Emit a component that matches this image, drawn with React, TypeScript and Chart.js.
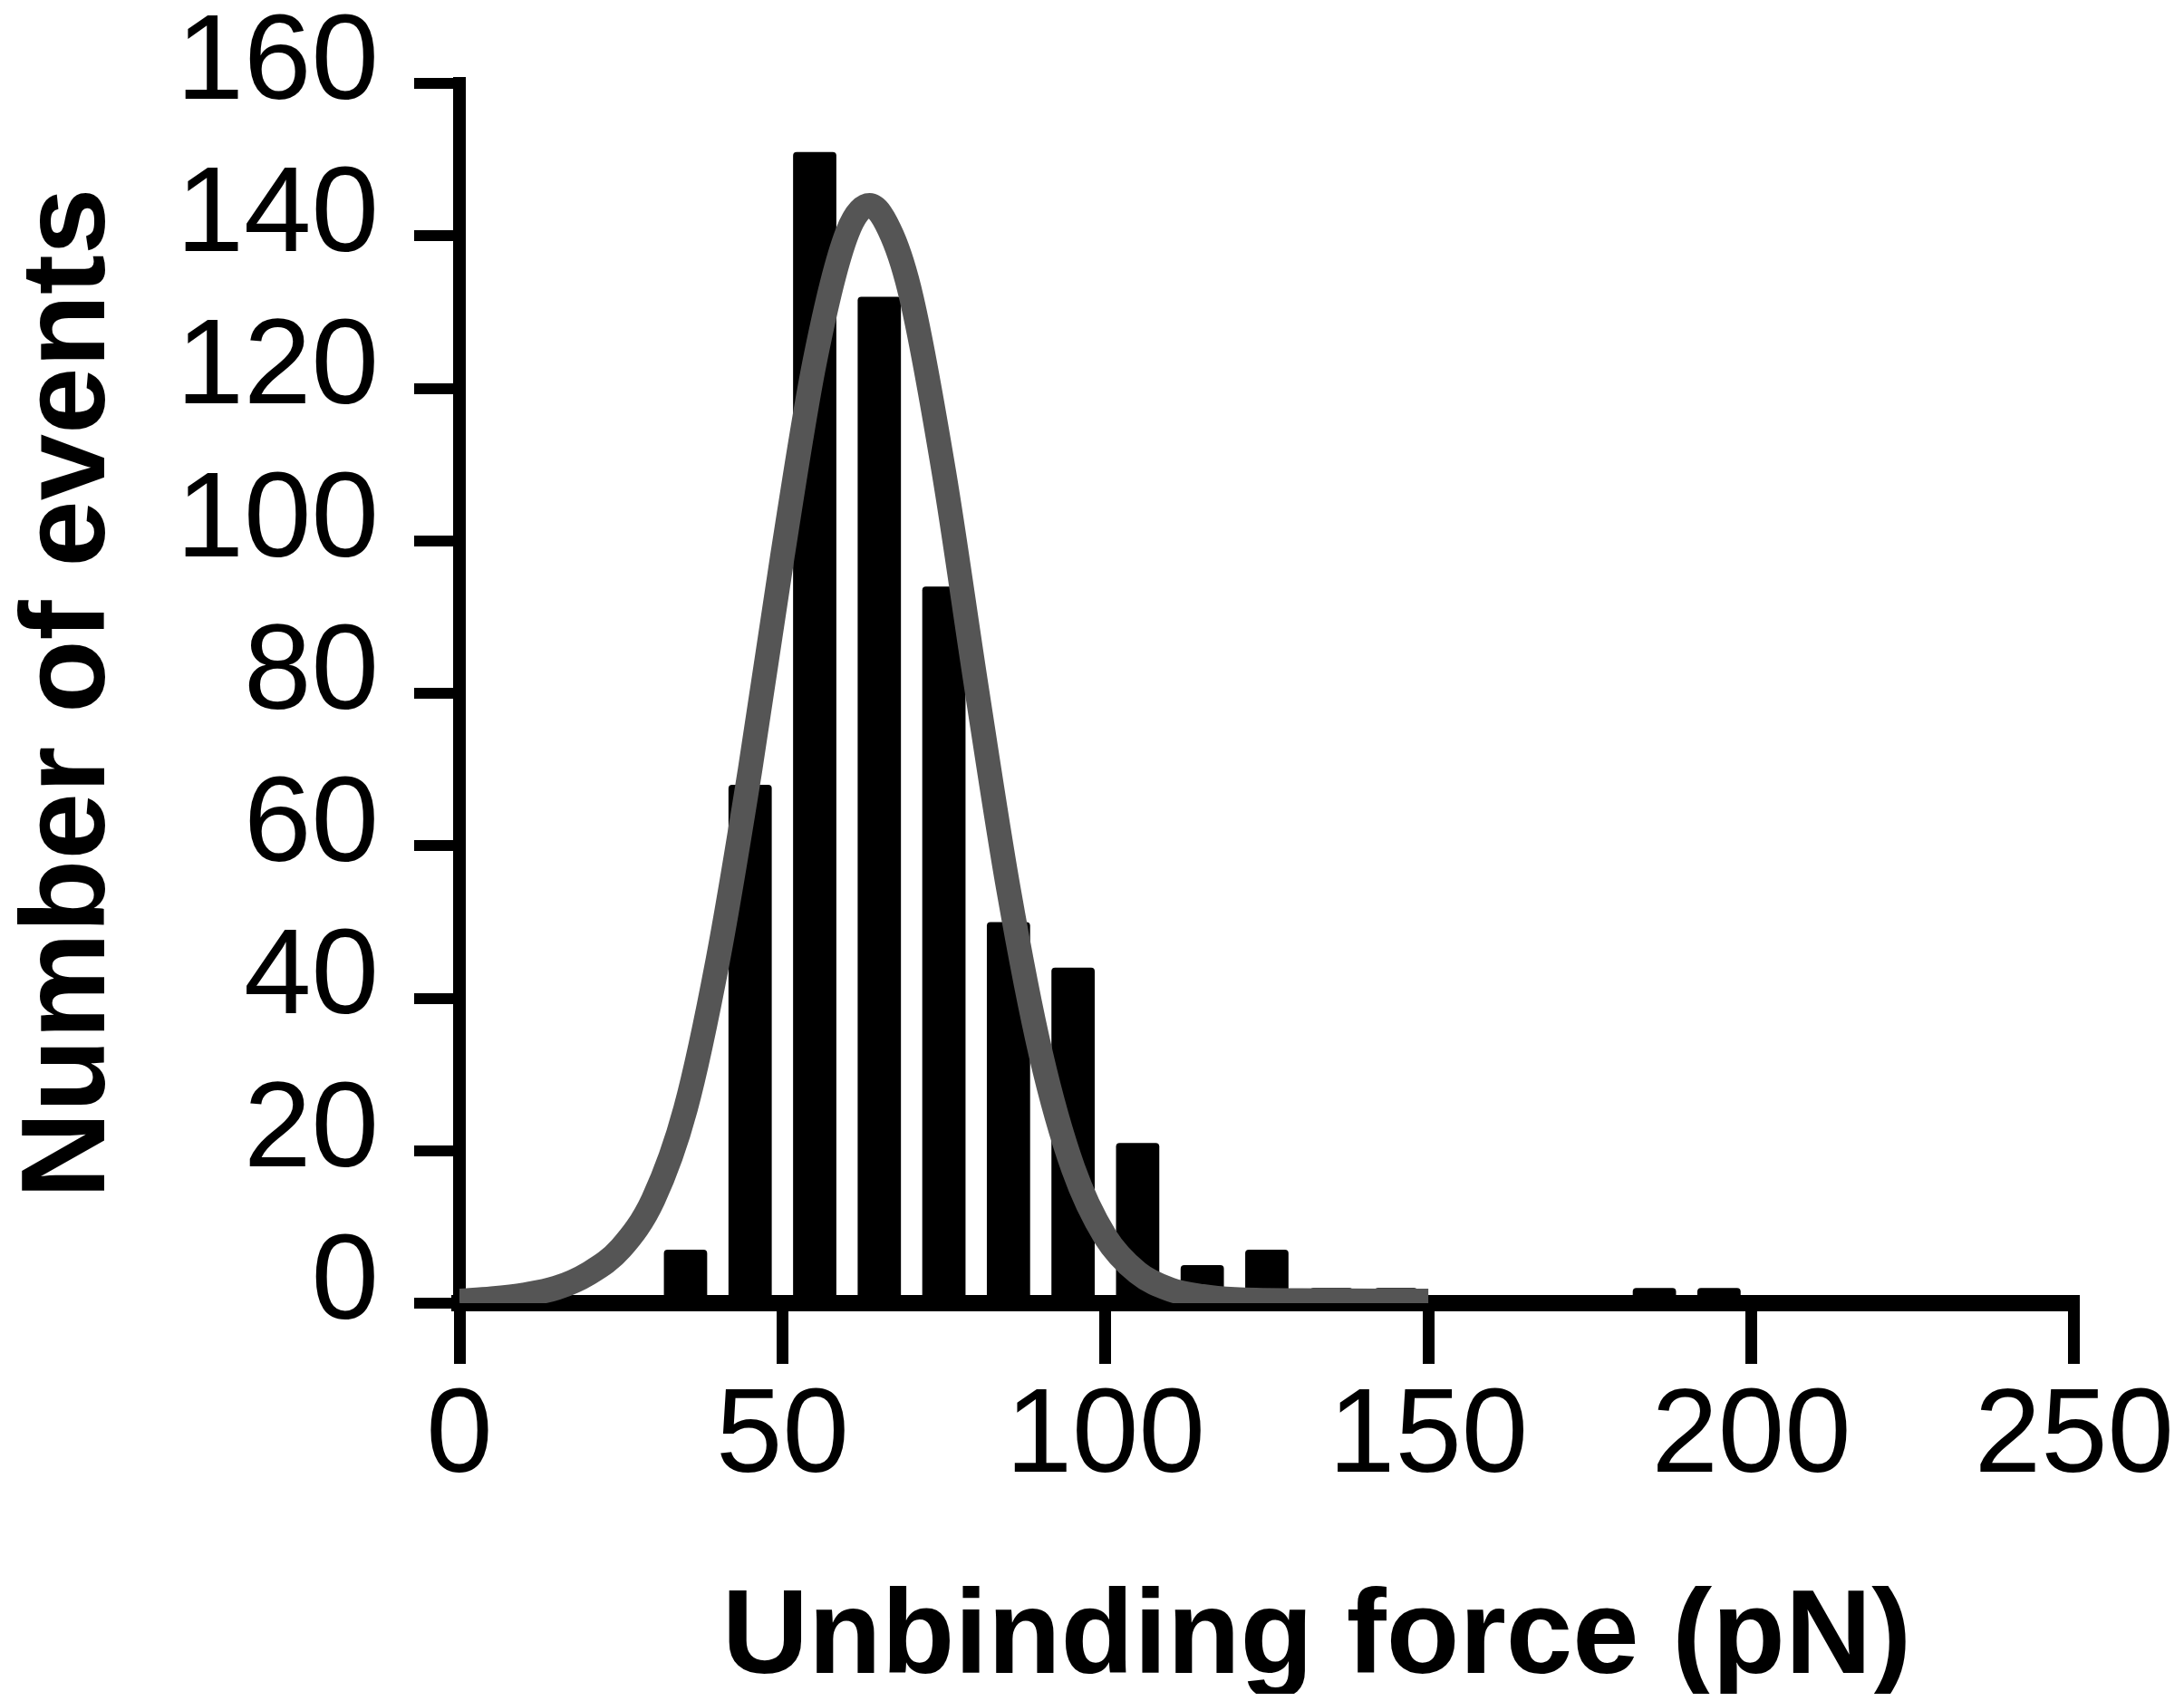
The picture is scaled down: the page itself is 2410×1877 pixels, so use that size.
import React, { useEffect, useRef } from "react";
import { Chart, registerables } from "chart.js";

Chart.register(...registerables);

// Histogram bins (bin centre, pN) and counts
const binCenters = [35, 45, 55, 65, 75, 85, 95, 105, 115, 125, 135, 145, 155, 165, 175, 185, 195];
const eventCounts = [7, 68, 151, 132, 94, 50, 44, 21, 5, 7, 2, 2, 0, 0, 0, 2, 2];

// Fitted curve
const fitForce = [
  0, 5, 10, 15, 20, 25, 30, 35, 40, 45, 50, 55, 60, 63.5, 67, 70, 75, 80, 85, 90, 95, 100, 105, 110, 115, 120,
  130, 150,
];
const fitCount = [
  0.3, 0.6, 1.1, 2.0, 3.9, 7.2, 13.6, 25.5, 45, 70, 98, 123.5, 140.3, 144, 140, 131.8, 109, 81, 54.3, 32.7, 17.7,
  8.7, 4.0, 1.8, 0.9, 0.5, 0.35, 0.3,
];

// Axis ranges / tick steps
const xRange = [0, 250];
const xStep = 50;
const yRange = [0, 160];
const yStep = 20;

const xTitle = "   Unbinding force (pN)";
const yTitle = "Number of events";

const FONT = '"Liberation Sans", Arial, Helvetica, sans-serif';

export default function App() {
  const ref = useRef<HTMLCanvasElement>(null);

  useEffect(() => {
    if (!ref.current) return;
    const chart = new Chart(ref.current, {
      type: "bar",
      data: {
        datasets: [
          {
            type: "line",
            data: fitForce.map((x, i) => ({ x, y: fitCount[i] })),
            borderColor: "#555555",
            borderWidth: 27,
            pointRadius: 0,
            cubicInterpolationMode: "monotone",
            fill: false,
            borderCapStyle: "butt",
            borderJoinStyle: "round",
            order: 0,
          } as any,
          {
            type: "bar",
            data: binCenters.map((x, i) => ({ x, y: eventCounts[i] })),
            backgroundColor: "#000000",
            barPercentage: 0.67,
            categoryPercentage: 1,
            borderRadius: 4,
            order: 1,
          } as any,
        ],
      },
      options: {
        responsive: false,
        animation: false,
        devicePixelRatio: 1,
        layout: { padding: { top: 84, right: 112, left: 0, bottom: 0 } },
        plugins: {
          legend: { display: false },
          tooltip: { enabled: false },
        },
        scales: {
          x: {
            type: "linear",
            min: xRange[0],
            max: xRange[1],
            offset: false,
            ticks: {
              stepSize: xStep,
              color: "#000",
              font: { family: FONT, size: 132 },
              padding: 3,
              maxRotation: 0,
              autoSkip: false,
            },
            grid: {
              offset: false,
              drawOnChartArea: false,
              drawTicks: true,
              tickLength: 67,
              lineWidth: 13,
              color: "#000",
            },
            border: { display: true, width: 18, color: "#000" },
            title: {
              display: true,
              text: xTitle,
              color: "#000",
              font: { family: FONT, size: 132, weight: "bold", lineHeight: 0.9 },
              padding: { top: 0, bottom: 0 },
            },
            afterFit: (s: any) => {
              s.height = 431;
            },
          },
          y: {
            type: "linear",
            min: yRange[0],
            max: yRange[1],
            ticks: {
              stepSize: yStep,
              color: "#000",
              font: { family: FONT, size: 134, lineHeight: 0.4 },
              padding: 39,
              labelOffset: -20,
            },
            grid: {
              drawOnChartArea: false,
              drawTicks: true,
              tickLength: 50,
              lineWidth: 12,
              color: "#000",
            },
            border: { display: true, width: 14, color: "#000" },
            title: {
              display: true,
              text: yTitle,
              color: "#000",
              font: { family: FONT, size: 132, weight: "bold", lineHeight: 0.9 },
              padding: { top: 11, bottom: 0 },
            },
            afterFit: (s: any) => {
              s.width = 499;
            },
          },
        },
      } as any,
    });
    return () => chart.destroy();
  }, []);

  return (
    <div style={{ width: 2394, height: 1861, background: "#fff" }}>
      <canvas ref={ref} width={2394} height={1861} style={{ display: "block" }} />
    </div>
  );
}
